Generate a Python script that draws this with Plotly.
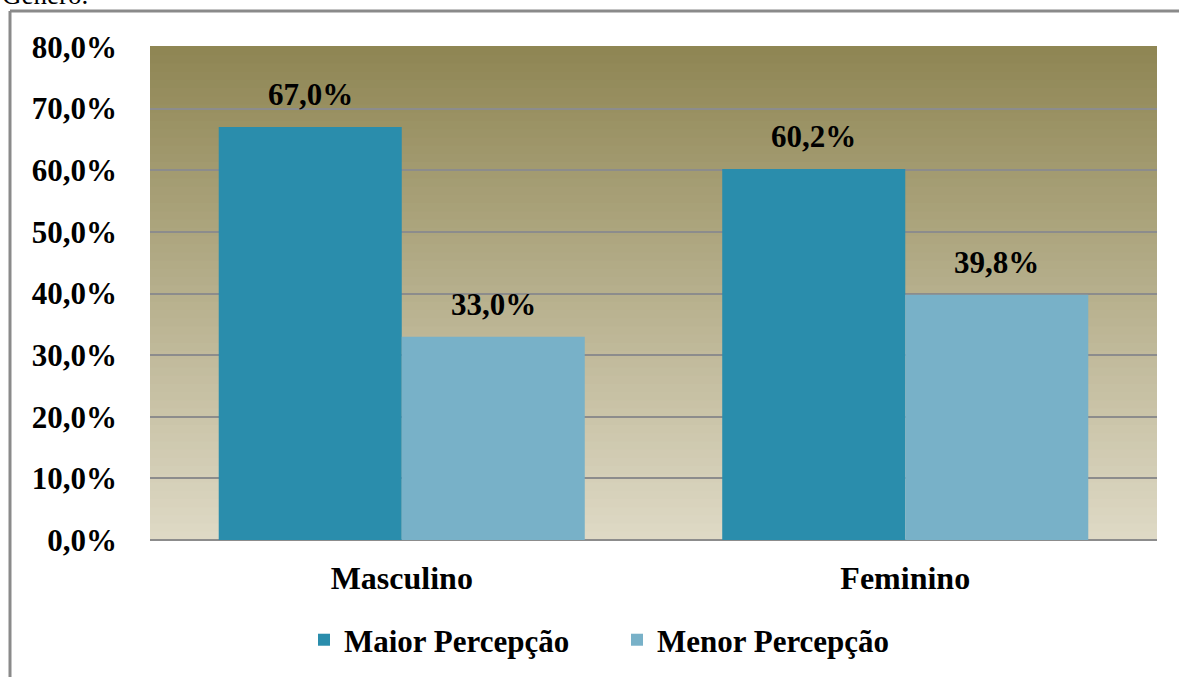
import plotly.graph_objects as go

categories = ["Masculino", "Feminino"]
maior = [67.0, 60.2]
menor = [33.0, 39.8]
series_names = ["Maior Percepção", "Menor Percepção"]
tick_vals = [0, 10, 20, 30, 40, 50, 60, 70, 80]
tick_text = ["0,0%", "10,0%", "20,0%", "30,0%", "40,0%", "50,0%", "60,0%", "70,0%", "80,0%"]

W, H = 1179, 677
L, R, T, B = 150, 22, 47, 137
pw, ph = W - L - R, H - T - B

def fmt(v):
    return f"{v:.1f}".replace(".", ",") + "%"

SERIF = "Liberation Serif"
FS = 31

fig = go.Figure()
fig.add_trace(go.Bar(
    name="<b>" + series_names[0] + "</b>", x=categories, y=maior,
    marker=dict(color="#2A8DAC", line=dict(width=0)),
))
fig.add_trace(go.Bar(
    name="<b>" + series_names[1] + "</b>", x=categories, y=menor,
    marker=dict(color="#78B1C8", line=dict(width=0)),
))

# value labels above bars
annotations = []
group_px = pw / len(categories) * (1 - 0.273)
for j, vals in enumerate([maior, menor]):
    shift = (-0.25 + 0.5 * j) * group_px
    for c, v in zip(categories, vals):
        annotations.append(dict(x=c, y=v, xref="x", yref="y", text="<b>" + fmt(v) + "</b>",
                                showarrow=False, xshift=shift, yanchor="bottom", yshift=13,
                                font=dict(family=SERIF, size=FS, color="#000000")))

# gradient background in the plot area
shapes = []
n = 60
top = (143, 134, 84)
bot = (222, 217, 197)
for i in range(n):
    t = i / (n - 1)
    c = tuple(round(bot[k] + (top[k] - bot[k]) * t) for k in range(3))
    shapes.append(dict(type="rect", xref="paper", yref="paper",
                       x0=0, x1=1, y0=i / n, y1=(i + 1) / n + 0.002,
                       fillcolor="rgb(%d,%d,%d)" % c, line=dict(width=0), layer="below"))

# outer frame lines (left and top)
fx = (10 - L) / pw
fy = (H - B - 11) / ph
fbot = (H - B - H - 5) / ph
shapes.append(dict(type="line", xref="paper", yref="paper", x0=fx, x1=(W - L + 5) / pw,
                   y0=fy, y1=fy, line=dict(color="#8A8A8A", width=3)))
shapes.append(dict(type="line", xref="paper", yref="paper", x0=fx, x1=fx,
                   y0=fy, y1=fbot, line=dict(color="#8A8A8A", width=3)))

annotations.append(dict(text="Gênero.", xref="paper", yref="paper",
                        x=(0 - L) / pw, xanchor="left", y=(H - B + 5) / ph, yanchor="middle",
                        showarrow=False, font=dict(family=SERIF, size=27, color="#000000")))

fig.update_layout(
    width=W, height=H,
    margin=dict(l=L, r=R, t=T, b=B, autoexpand=False),
    paper_bgcolor="#FFFFFF",
    plot_bgcolor="rgba(0,0,0,0)",
    barmode="group", bargap=0.273, bargroupgap=0,
    shapes=shapes,
    annotations=annotations,
    font=dict(family=SERIF, size=FS, color="#000000"),
    showlegend=True,
    legend=dict(orientation="h", x=(304 - L) / pw, xanchor="left", y=-0.203, yanchor="middle",
                font=dict(family=SERIF, size=FS, color="#000000"),
                itemwidth=30, entrywidth=268, entrywidthmode="pixels",
                traceorder="normal", bgcolor="rgba(0,0,0,0)"),
    xaxis=dict(showgrid=False, showline=False, ticks="",
               tickvals=categories, ticktext=["<b>" + c + "</b>" for c in categories],
               tickfont=dict(family=SERIF, size=FS + 1, color="#000000"),
               ticklabelstandoff=16),
    yaxis=dict(range=[0, 80], tickvals=tick_vals, ticktext=["<b>" + t + "</b>" for t in tick_text],
               showgrid=True, gridcolor="#8C8C8C", gridwidth=1.5,
               zeroline=True, zerolinecolor="#8C8C8C", zerolinewidth=2,
               showline=False, ticks="",
               tickfont=dict(family=SERIF, size=FS, color="#000000"),
               ticklabelstandoff=32),
)

fig.write_html("out.html", config={"displayModeBar": False},
               post_script="document.body.style.margin='0';")
